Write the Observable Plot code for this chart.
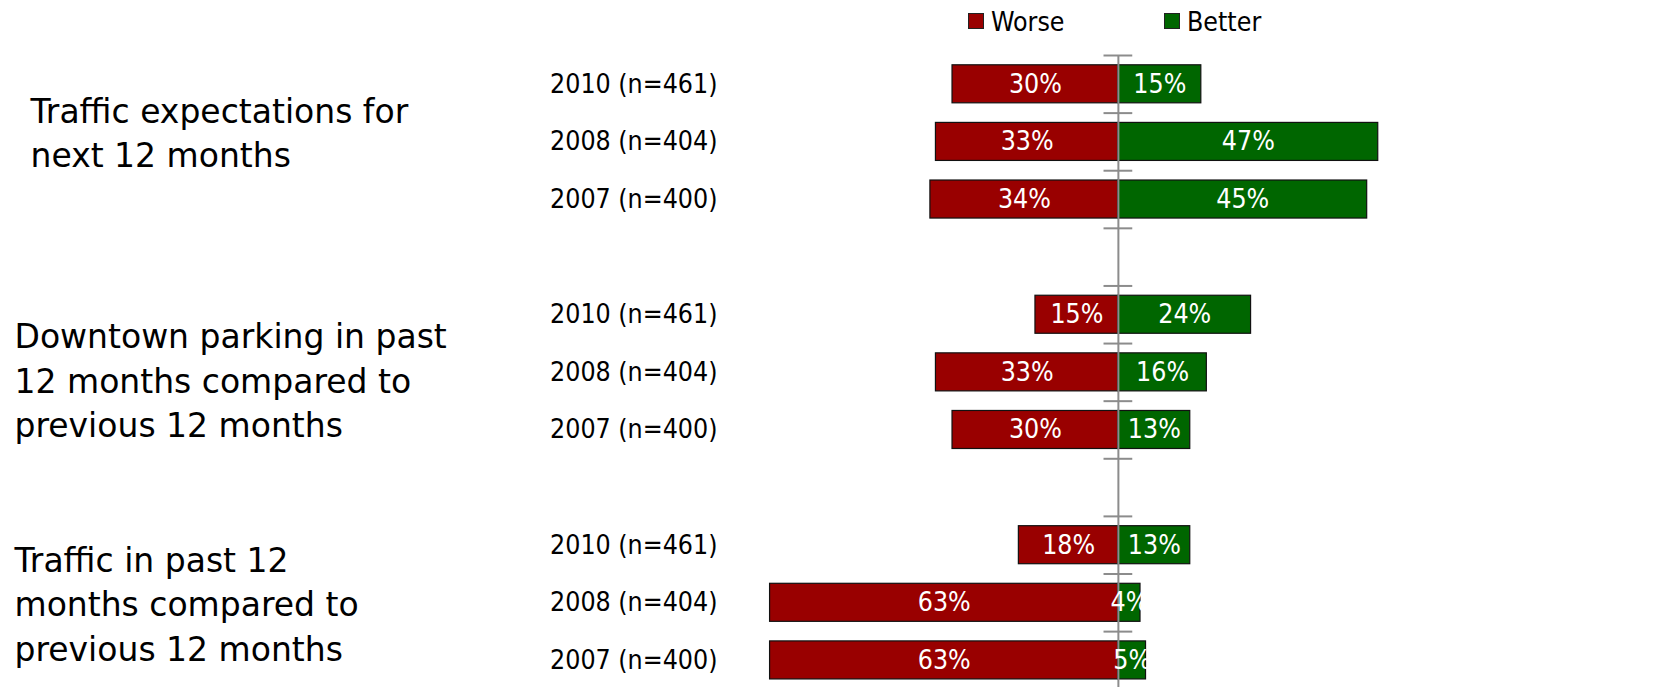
<!DOCTYPE html>
<html>
<head>
<meta charset="utf-8">
<script src="https://cdn.jsdelivr.net/npm/d3@7"></script>
<script src="https://cdn.jsdelivr.net/npm/@observablehq/plot@0.6"></script>
<style>
  html, body { margin: 0; padding: 0; background: #fff; }
  #wrap { position: relative; width: 1667px; height: 687px; overflow: hidden; }
  #legend { position: absolute; top: 0; left: 0; height: 42px; width: 1667px;
            font-family: "DejaVu Sans Condensed", "DejaVu Sans", sans-serif; font-size: 26.5px; color: #000; }
  .item { position: absolute; top: 4px; display: flex; align-items: center; height: 34px; }
  .sw { width: 14px; height: 14px; border: 1.5px solid #222; margin-right: 7px; }
  #chart { position: absolute; top: 0; left: 0; }
</style>
</head>
<body>
<div id="wrap">
  <div id="chart"></div>
  <div id="legend"></div>
</div>
<script>
// ---- data ----
const groups = [
  "Traffic expectations for\nnext 12 months",
  "Downtown parking in past\n12 months compared to\nprevious 12 months",
  "Traffic in past 12\nmonths compared to\nprevious 12 months"
];
const years = ["2010 (n=461)", "2008 (n=404)", "2007 (n=400)"];
const worse  = [30, 33, 34,  15, 33, 30,  18, 63, 63];
const better = [15, 47, 45,  24, 16, 13,  13,  4,  5];
const seriesNames = ["Worse", "Better"];
const seriesColors = ["#990000", "#006600"];

// ---- table ----
const rows = [];
groups.forEach((g, gi) => {
  years.forEach((y, yi) => {
    const k = gi * 3 + yi;
    rows.push({group: g, year: y, slot: gi * 4 + yi, worse: worse[k], better: better[k]});
  });
});
const boundaries = d3.range(-0.5, 11, 1);
const half = 0.33;

const groupText = (i, dx, dy) => Plot.text([groups[i]], {
  frameAnchor: "left", y: () => i * 4 + 1, text: d => d, textAnchor: "start",
  lineAnchor: "middle", lineHeight: 1.35, dx, dy, fontSize: 33, fontFamily: "DejaVu Sans", fill: "#000"
});

const plot = Plot.plot({
  width: 1667,
  height: 687,
  marginTop: 55,
  marginBottom: 0,
  marginLeft: 727,
  marginRight: 67,
  style: {fontFamily: "DejaVu Sans Condensed, DejaVu Sans, sans-serif", fontSize: "26.5px", color: "#000", background: "transparent"},
  x: {domain: [-70.7, 87.2], axis: null},
  y: {domain: [-0.5, 10.47], reverse: true, axis: null},
  marks: [
    Plot.rect(rows, {x1: d => -d.worse, x2: 0, y1: d => d.slot - half, y2: d => d.slot + half,
      fill: seriesColors[0], stroke: "#111", strokeWidth: 1.2}),
    Plot.rect(rows, {x1: 0, x2: "better", y1: d => d.slot - half, y2: d => d.slot + half,
      fill: seriesColors[1], stroke: "#111", strokeWidth: 1.2}),
    Plot.ruleY(boundaries, {y: d => d, x1: -2.6, x2: 2.6, stroke: "#8c8c8c", strokeWidth: 2}),
    Plot.ruleX([0], {y1: -0.5, y2: 10.47, stroke: "#8c8c8c", strokeWidth: 2}),
    Plot.text(rows, {x: d => -d.worse / 2, y: "slot", text: d => d.worse + "%", fill: "#fff", fontSize: 26.5}),
    Plot.text(rows, {x: d => d.better / 2, y: "slot", text: d => d.better + "%", fill: "#fff", fontSize: 26.5}),
    Plot.axisY({ticks: rows.map(d => d.slot), tickFormat: s => rows.find(r => r.slot === s).year,
      tickSize: 0, tickPadding: 10, fontSize: 26.5, fill: "#000", label: null}),
    groupText(0, 30 - 727, -11),
    groupText(1, 14 - 727, 6),
    groupText(2, 14 - 727, -1)
  ]
});
document.getElementById("chart").appendChild(plot);

// ---- legend ----
const legend = document.getElementById("legend");
const legendX = [968, 1164];
seriesNames.forEach((name, i) => {
  const item = document.createElement("div");
  item.className = "item";
  item.style.left = legendX[i] + "px";
  const sw = document.createElement("div");
  sw.className = "sw";
  sw.style.background = seriesColors[i];
  const label = document.createElement("span");
  label.textContent = name;
  item.appendChild(sw);
  item.appendChild(label);
  legend.appendChild(item);
});
</script>
</body>
</html>
